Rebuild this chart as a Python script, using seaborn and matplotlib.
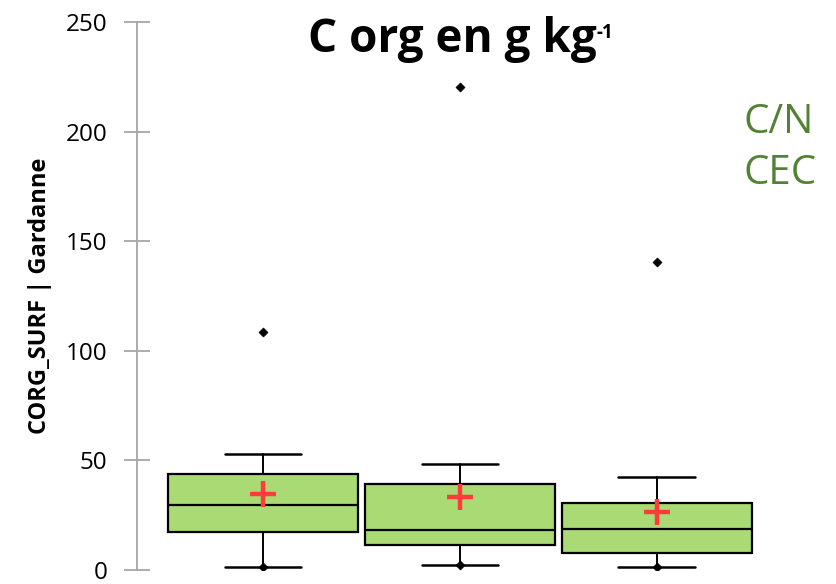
import matplotlib
matplotlib.use("Agg")
import matplotlib.pyplot as plt
import seaborn as sns
import pandas as pd

# Box statistics (g/kg)
groups = ['A', 'B', 'C']
q1 = [17.3, 11.4, 7.8]
medians = [29.7, 18.2, 18.7]
q3 = [43.8, 39.2, 30.6]
whisker_low = [1.4, 2.3, 1.4]
whisker_high = [52.9, 48.4, 42.4]
means = [34.7, 33.3, 26.5]
outliers = [108.6, 220.3, 140.5]
y_ticks = [0, 50, 100, 150, 200, 250]

sns.set_style('white')
plt.rcParams['font.family'] = ['Open Sans', 'DejaVu Sans']
plt.rcParams['text.color'] = 'black'
plt.rcParams['axes.labelcolor'] = 'black'

fig = plt.figure(figsize=(8.36, 5.84), dpi=100)
ax = fig.add_axes([0.164, 0.024, 0.836, 0.938])

stats = []
for i, g in enumerate(groups):
    stats.append({'label': g, 'q1': q1[i], 'med': medians[i], 'q3': q3[i],
                  'whislo': whisker_low[i], 'whishi': whisker_high[i], 'fliers': []})

ax.bxp(stats, positions=range(len(groups)), widths=0.965, patch_artist=True,
       showfliers=False,
       boxprops=dict(facecolor='#A9DA74', edgecolor='black', linewidth=1.6),
       medianprops=dict(color='black', linewidth=1.6),
       whiskerprops=dict(color='black', linewidth=1.4),
       capprops=dict(color='black', linewidth=1.8), capwidths=0.39)

pts = pd.DataFrame({'pos': list(range(len(groups))) * 2,
                    'value': outliers + whisker_low})
sns.scatterplot(data=pts, x='pos', y='value', marker='D', color='black',
                s=22, edgecolor='black', ax=ax, zorder=5)

mean_df = pd.DataFrame({'pos': range(len(groups)), 'value': means})
sns.scatterplot(data=mean_df, x='pos', y='value', marker='+', color='#FF3B3B',
                s=330, linewidth=3.2, ax=ax, zorder=6)

ax.set_xlim(-0.64, 2.91)
ax.set_ylim(0, 250)
ax.set_yticks(y_ticks)
ax.set_xticks([])
ax.set_xlabel('')
ax.set_ylabel('CORG_SURF | Gardanne', fontsize=17, fontweight='bold')
ax.yaxis.set_label_coords(-0.122, 0.5)
for s in ['top', 'right', 'bottom']:
    ax.spines[s].set_visible(False)
ax.spines['left'].set_color('#A6A6A6')
ax.spines['left'].set_linewidth(1.3)
ax.tick_params(axis='y', left=True, direction='inout', length=19, width=1.3,
               color='#A6A6A6', labelcolor='black', labelsize=17.5, pad=12)

title = fig.text(0.368, 1 - 52 / 584, 'C org en g kg', ha='left', va='baseline',
                 fontsize=33, fontweight='bold')
ax.annotate('-1', xy=(1.0, 0.86), xycoords=title, ha='left', va='top',
            fontsize=13.5, fontweight='bold')
fig.text(0.889, 1 - 133 / 584, 'C/N', ha='left', va='baseline', fontsize=29, color='#548235')
fig.text(0.889, 1 - 184 / 584, 'CEC', ha='left', va='baseline', fontsize=29, color='#548235')

fig.savefig('out.png', dpi=100)
